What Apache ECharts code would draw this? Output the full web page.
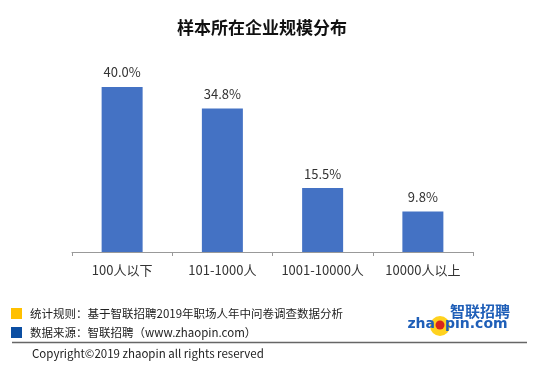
<!DOCTYPE html>
<html><head><meta charset="utf-8">
<script src="https://cdn.jsdelivr.net/npm/echarts@6/dist/echarts.min.js"></script>
<style>html,body{margin:0;padding:0;background:#fff}#c{width:550px;height:371px}</style>
</head><body><div id="c"></div>
<script>
const categories = ['100人以下', '101-1000人', '1001-10000人', '10000人以上'];
const values = [40.0, 34.8, 15.5, 9.8];
const titleText = '样本所在企业规模分布';
const note1 = '统计规则：基于智联招聘2019年职场人年中问卷调查数据分析';
const note2 = '数据来源：智联招聘（www.zhaopin.com）';
const copyright = 'Copyright©2019 zhaopin all rights reserved';

const F = '"Noto Sans CJK SC", "Noto Sans", sans-serif';
const chart = echarts.init(document.getElementById('c'));
chart.setOption({
  animation: false,
  backgroundColor: '#fff',
  title: { text: titleText, left: 172, top: 14, textStyle: { fontFamily: F, fontSize: 17, fontWeight: 'bold', color: '#111' } },
  grid: { left: 72, right: 77, top: 87, bottom: 119 },
  xAxis: {
    type: 'category', data: categories,
    axisLine: { lineStyle: { color: '#999', width: 1 } },
    axisTick: { show: true, interval: 0, length: 4, lineStyle: { color: '#999' } },
    axisLabel: { interval: 0, hideOverlap: false, fontFamily: F, fontSize: 13, color: '#333', margin: 12 }
  },
  yAxis: { type: 'value', min: 0, max: 40, show: false, splitLine: { show: false } },
  series: [{
    type: 'bar', data: values, barWidth: 41,
    itemStyle: { color: '#4472C4' },
    label: { show: true, position: 'top', distance: 8, fontFamily: F, fontSize: 13, color: '#333', formatter: p => p.value.toFixed(1) + '%' }
  }],
  graphic: [
    { type: 'rect', shape: { x: 11, y: 308, width: 11, height: 11 }, style: { fill: '#FFC000' } },
    { type: 'text', style: { x: 30, y: 313.5, text: note1, fill: '#222', font: '11.5px ' + F, textVerticalAlign: 'middle' } },
    { type: 'rect', shape: { x: 11, y: 327, width: 11, height: 11 }, style: { fill: '#0B4EA2' } },
    { type: 'text', style: { x: 30, y: 332.5, text: note2, fill: '#222', font: '11.5px ' + F, textVerticalAlign: 'middle' } },
    { type: 'line', shape: { x1: 12, y1: 342.5, x2: 527, y2: 342.5 }, style: { stroke: '#666', lineWidth: 1.5 } },
    { type: 'text', style: { x: 32, y: 354, text: copyright, fill: '#222', font: '11.5px ' + F, textVerticalAlign: 'middle' } },
    { type: 'circle', shape: { cx: 440, cy: 326, r: 10 }, style: { fill: '#FFD21F' } },
    { type: 'circle', shape: { cx: 440, cy: 325, r: 4.5 }, style: { fill: '#D9261C' } },
    { type: 'text', style: { x: 510, y: 311, text: '智联招聘', fill: '#1F5FB8', font: 'bold 15px ' + F, textAlign: 'right', textVerticalAlign: 'middle' } },
    { type: 'text', style: { x: 435, y: 324, text: 'zha', fill: '#1F5FB8', font: 'bold 14px "DejaVu Sans", sans-serif', textAlign: 'right', textVerticalAlign: 'middle' } },
    { type: 'text', style: { x: 445, y: 324, text: 'pin.com', fill: '#1F5FB8', font: 'bold 14px "DejaVu Sans", sans-serif', textAlign: 'left', textVerticalAlign: 'middle' } }
  ]
});
</script></body></html>
